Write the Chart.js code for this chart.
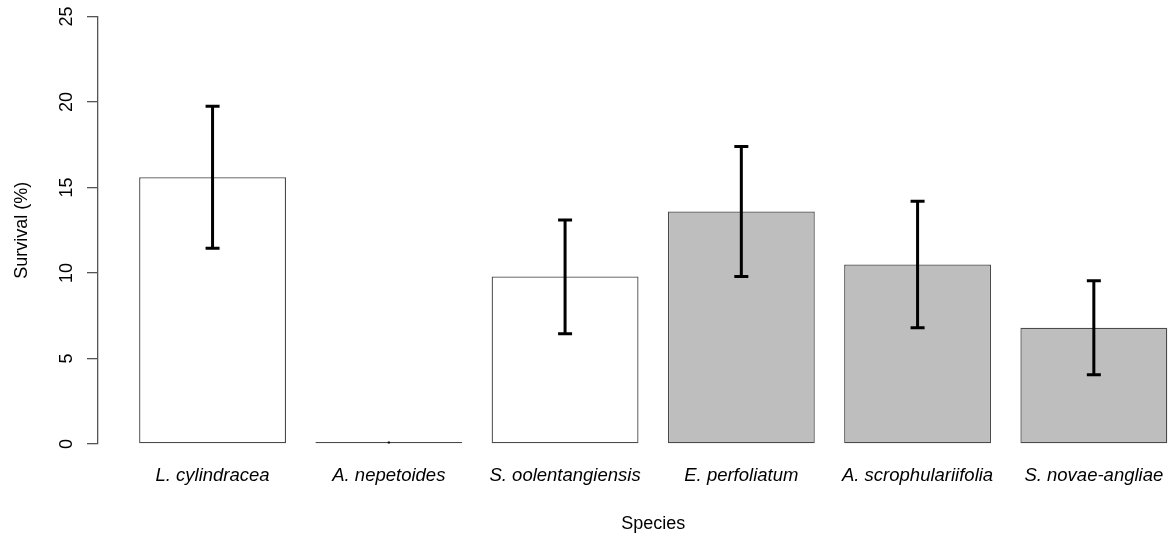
<!DOCTYPE html>
<html>
<head>
<meta charset="utf-8">
<script src="https://cdn.jsdelivr.net/npm/chart.js@4.4.0/dist/chart.umd.min.js"></script>
<style>
  html, body { margin: 0; padding: 0; background: #fff; overflow: hidden; }
  #wrap { width: 1210px; height: 542px; }
</style>
</head>
<body>
<div id="wrap"><canvas id="grafica" width="1210" height="542"></canvas></div>
<script>
// Datos
const especies = ["L. cylindracea", "A. nepetoides", "S. oolentangiensis", "E. perfoliatum", "A. scrophulariifolia", "S. novae-angliae"];
const supervivencia = [15.6, 0, 9.8, 13.6, 10.5, 6.8];
const errorInferior = [11.45, 0, 6.45, 9.8, 6.8, 4.05];
const errorSuperior = [19.75, 0, 13.1, 17.4, 14.2, 9.55];
const coloresBarra = ["#ffffff", "#ffffff", "#ffffff", "#bebebe", "#bebebe", "#bebebe"];
const ticksY = [0, 5, 10, 15, 20, 25];

const fuente = "'Liberation Sans', Arial, Helvetica, sans-serif";

// barplot de R: ancho 1, espacio 0.2
const centroBarra = i => 0.7 + 1.2 * i;

// Barras de error con tapas
const barrasError = {
  id: "barrasError",
  afterDatasetsDraw(chart) {
    const ctx = chart.ctx;
    const xs = chart.scales.x, ys = chart.scales.y;
    ctx.save();
    ctx.strokeStyle = "#000";
    ctx.lineWidth = 3;
    especies.forEach((_, i) => {
      const x = xs.getPixelForValue(centroBarra(i));
      const y1 = ys.getPixelForValue(errorInferior[i]);
      const y2 = ys.getPixelForValue(errorSuperior[i]);
      if (y1 === y2) {
        ctx.fillStyle = "#000";
        ctx.fillRect(x - 1, y1 - 2.5, 2, 2);
        return;
      }
      ctx.beginPath();
      ctx.moveTo(x, y1); ctx.lineTo(x, y2);
      ctx.moveTo(x - 7, y1); ctx.lineTo(x + 7, y1);
      ctx.moveTo(x - 7, y2); ctx.lineTo(x + 7, y2);
      ctx.stroke();
    });
    ctx.restore();
  }
};

// Etiquetas del eje Y giradas como en R
const etiquetasY = {
  id: "etiquetasY",
  afterDraw(chart) {
    const ctx = chart.ctx;
    const ys = chart.scales.y;
    ctx.save();
    ctx.fillStyle = "#000";
    ctx.font = "18px " + fuente;
    ctx.textAlign = "center";
    ctx.textBaseline = "middle";
    ys.ticks.forEach(t => {
      const y = ys.getPixelForValue(t.value);
      ctx.save();
      ctx.translate(67, y);
      ctx.rotate(-Math.PI / 2);
      ctx.fillText(String(t.value), 0, 0);
      ctx.restore();
    });
    ctx.restore();
  }
};

new Chart(document.getElementById("grafica"), {
  type: "bar",
  data: {
    datasets: [{
      label: "Survival (%)",
      data: supervivencia.map((v, i) => ({ x: centroBarra(i), y: v })),
      backgroundColor: coloresBarra,
      borderColor: "#4a4a4a",
      borderWidth: 1.3,
      borderSkipped: false,
      minBarLength: 2,
      grouped: false,
      categoryPercentage: 1,
      barPercentage: 1 / 1.2
    }]
  },
  options: {
    responsive: false,
    devicePixelRatio: 1,
    animation: false,
    layout: { padding: { left: 0, top: 16.5, right: 1.6, bottom: 0 } },
    plugins: {
      legend: { display: false },
      tooltip: { enabled: false }
    },
    scales: {
      x: {
        type: "linear",
        offset: false,
        min: -0.08,
        max: 7.48,
        grid: { display: false, drawTicks: false },
        border: { display: false },
        afterBuildTicks: scale => {
          scale.ticks = especies.map((_, i) => ({ value: centroBarra(i) }));
        },
        afterFit: scale => { scale.height = 98; },
        ticks: {
          autoSkip: false,
          maxRotation: 0,
          minRotation: 0,
          padding: 21,
          color: "#000",
          font: { family: fuente, size: 18.5, style: "italic" },
          callback: (v, i) => especies[i]
        },
        title: {
          display: true,
          text: "Species",
          color: "#000",
          font: { family: fuente, size: 18 },
          padding: 7
        }
      },
      y: {
        min: 0,
        max: 25,
        afterBuildTicks: scale => {
          scale.ticks = ticksY.map(v => ({ value: v }));
        },
        afterFit: scale => { scale.width = 98; },
        grid: { drawOnChartArea: false, drawTicks: true, tickLength: 11, color: "#555", lineWidth: 1.3 },
        border: { display: true, color: "#555", width: 1.3 },
        ticks: { display: false },
        title: {
          display: true,
          text: "Survival (%)",
          color: "#000",
          font: { family: fuente, size: 18 },
          padding: 11
        }
      }
    }
  },
  plugins: [barrasError, etiquetasY]
});
</script>
</body>
</html>
